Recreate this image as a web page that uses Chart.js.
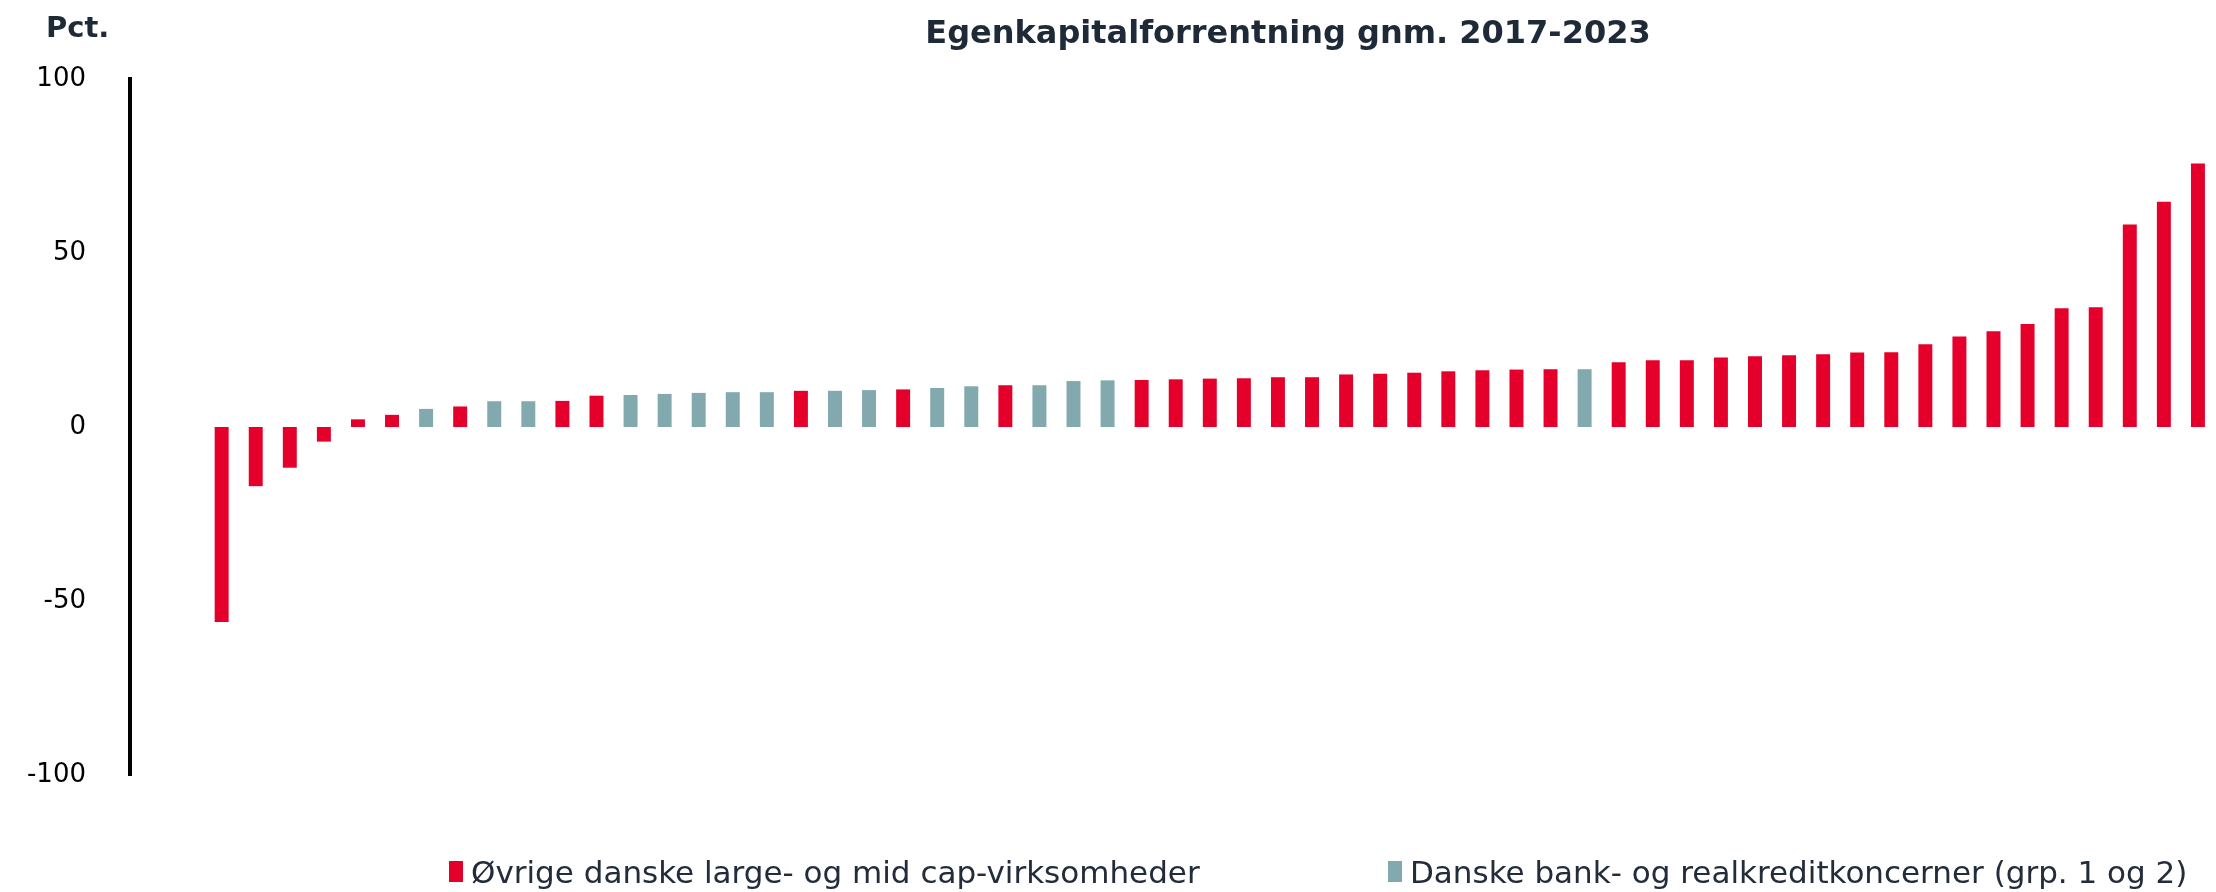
<!DOCTYPE html>
<html>
<head>
<meta charset="utf-8">
<script src="https://cdn.jsdelivr.net/npm/chart.js@4.4.1/dist/chart.umd.min.js"></script>
<style>
  html, body { margin: 0; padding: 0; background: #ffffff; }
  #wrap { position: relative; width: 2216px; height: 892px; overflow: hidden; font-family: "DejaVu Sans", sans-serif; }
  #chart { position: absolute; left: 0; top: 0; }
  .title { position: absolute; left: 1288px; top: 16px; transform: translateX(-50%); white-space: nowrap;
           font: 700 32px/32px "DejaVu Sans", sans-serif; color: #1e2a38; }
  .unit { position: absolute; left: 46px; top: 13px; white-space: nowrap;
          font: 700 29px/29px "DejaVu Sans", sans-serif; color: #1e2a38; }
  .lg-box { position: absolute; width: 14px; height: 21px; top: 861px; }
  .lg-text { position: absolute; top: 857px; white-space: nowrap;
             font: 400 31px/31px "DejaVu Sans", sans-serif; color: #222c3a; }
</style>
</head>
<body>
<div id="wrap">
  <canvas id="chart" width="2216" height="892"></canvas>
  <div class="unit" id="unit"></div>
  <div class="title" id="title"></div>
  <div id="legend"></div>
</div>
<script>
// ---- Data ----
const chartTitle = 'Egenkapitalforrentning gnm. 2017-2023';
const unitLabel = 'Pct.';

// Average return on equity per company, sorted ascending (pct.)
const values = [
  -56.0, -17.0, -11.7, -4.2, 2.2, 3.5, 5.2, 5.9, 7.4, 7.4,
  7.5, 9.0, 9.2, 9.5, 9.8, 10.0, 10.0, 10.4, 10.4, 10.6,
  10.8, 11.2, 11.7, 12.0, 12.0, 13.2, 13.4, 13.5, 13.7, 13.9,
  14.0, 14.3, 14.3, 15.1, 15.3, 15.6, 16.0, 16.3, 16.5, 16.6,
  16.6, 18.6, 19.2, 19.2, 20.0, 20.3, 20.6, 20.9, 21.4, 21.5,
  23.8, 26.0, 27.5, 29.6, 34.1, 34.4, 58.2, 64.7, 75.7
];

// Group of each company: 'O' = other large/mid cap, 'B' = bank/mortgage groups
const groups = [
  'O','O','O','O','O','O','B','O','B','B',
  'O','O','B','B','B','B','B','O','B','B',
  'O','B','B','O','B','B','B','O','O','O',
  'O','O','O','O','O','O','O','O','O','O',
  'B','O','O','O','O','O','O','O','O','O',
  'O','O','O','O','O','O','O','O','O'
];

const seriesKeys = ['O', 'B'];
const seriesNames = [
  'Øvrige danske large- og mid cap-virksomheder',
  'Danske bank- og realkreditkoncerner (grp. 1 og 2)'
];
const seriesColors = ['#E4002B', '#81A9AE'];

const yTicks = [-100, -50, 0, 50, 100];

// ---- Build datasets ----
const datasets = seriesKeys.map((key, s) => ({
  label: seriesNames[s],
  backgroundColor: seriesColors[s],
  borderWidth: 0,
  data: values
    .map((v, i) => ({ x: i, y: v }))
    .filter((p) => groups[p.x] === key)
}));

const chart = new Chart(document.getElementById('chart'), {
  type: 'bar',
  data: { datasets },
  options: {
    responsive: false,
    animation: false,
    devicePixelRatio: 1,
    layout: { padding: { top: 79, bottom: 117, left: 0, right: 0 } },
    datasets: { bar: { grouped: false, barPercentage: 0.41, categoryPercentage: 1.0 } },
    plugins: {
      legend: { display: false },
      title: { display: false },
      tooltip: { enabled: false }
    },
    scales: {
      x: {
        type: 'linear',
        display: false,
        min: -2.69,
        max: 58.53,
        offset: false
      },
      y: {
        min: yTicks[0],
        max: yTicks[yTicks.length - 1],
        afterBuildTicks: (scale) => { scale.ticks = yTicks.map((v) => ({ value: v })); },
        afterFit: (scale) => { scale.width = 130; },
        grid: { display: false, drawTicks: false },
        border: { display: true, color: '#000000', width: 4 },
        ticks: {
          padding: 44,
          color: '#000000',
          font: { family: '"DejaVu Sans", sans-serif', size: 26 }
        }
      }
    }
  }
});

// ---- Title, unit label and legend as real text ----
document.getElementById('title').textContent = chartTitle;
document.getElementById('unit').textContent = unitLabel;
const legendLefts = [449, 1388];
const legendEl = document.getElementById('legend');
chart.data.datasets.forEach((ds, i) => {
  const box = document.createElement('div');
  box.className = 'lg-box';
  box.style.left = legendLefts[i] + 'px';
  box.style.background = ds.backgroundColor;
  const txt = document.createElement('div');
  txt.className = 'lg-text';
  txt.style.left = (legendLefts[i] + 22) + 'px';
  txt.textContent = ds.label;
  legendEl.appendChild(box);
  legendEl.appendChild(txt);
});
</script>
</body>
</html>
